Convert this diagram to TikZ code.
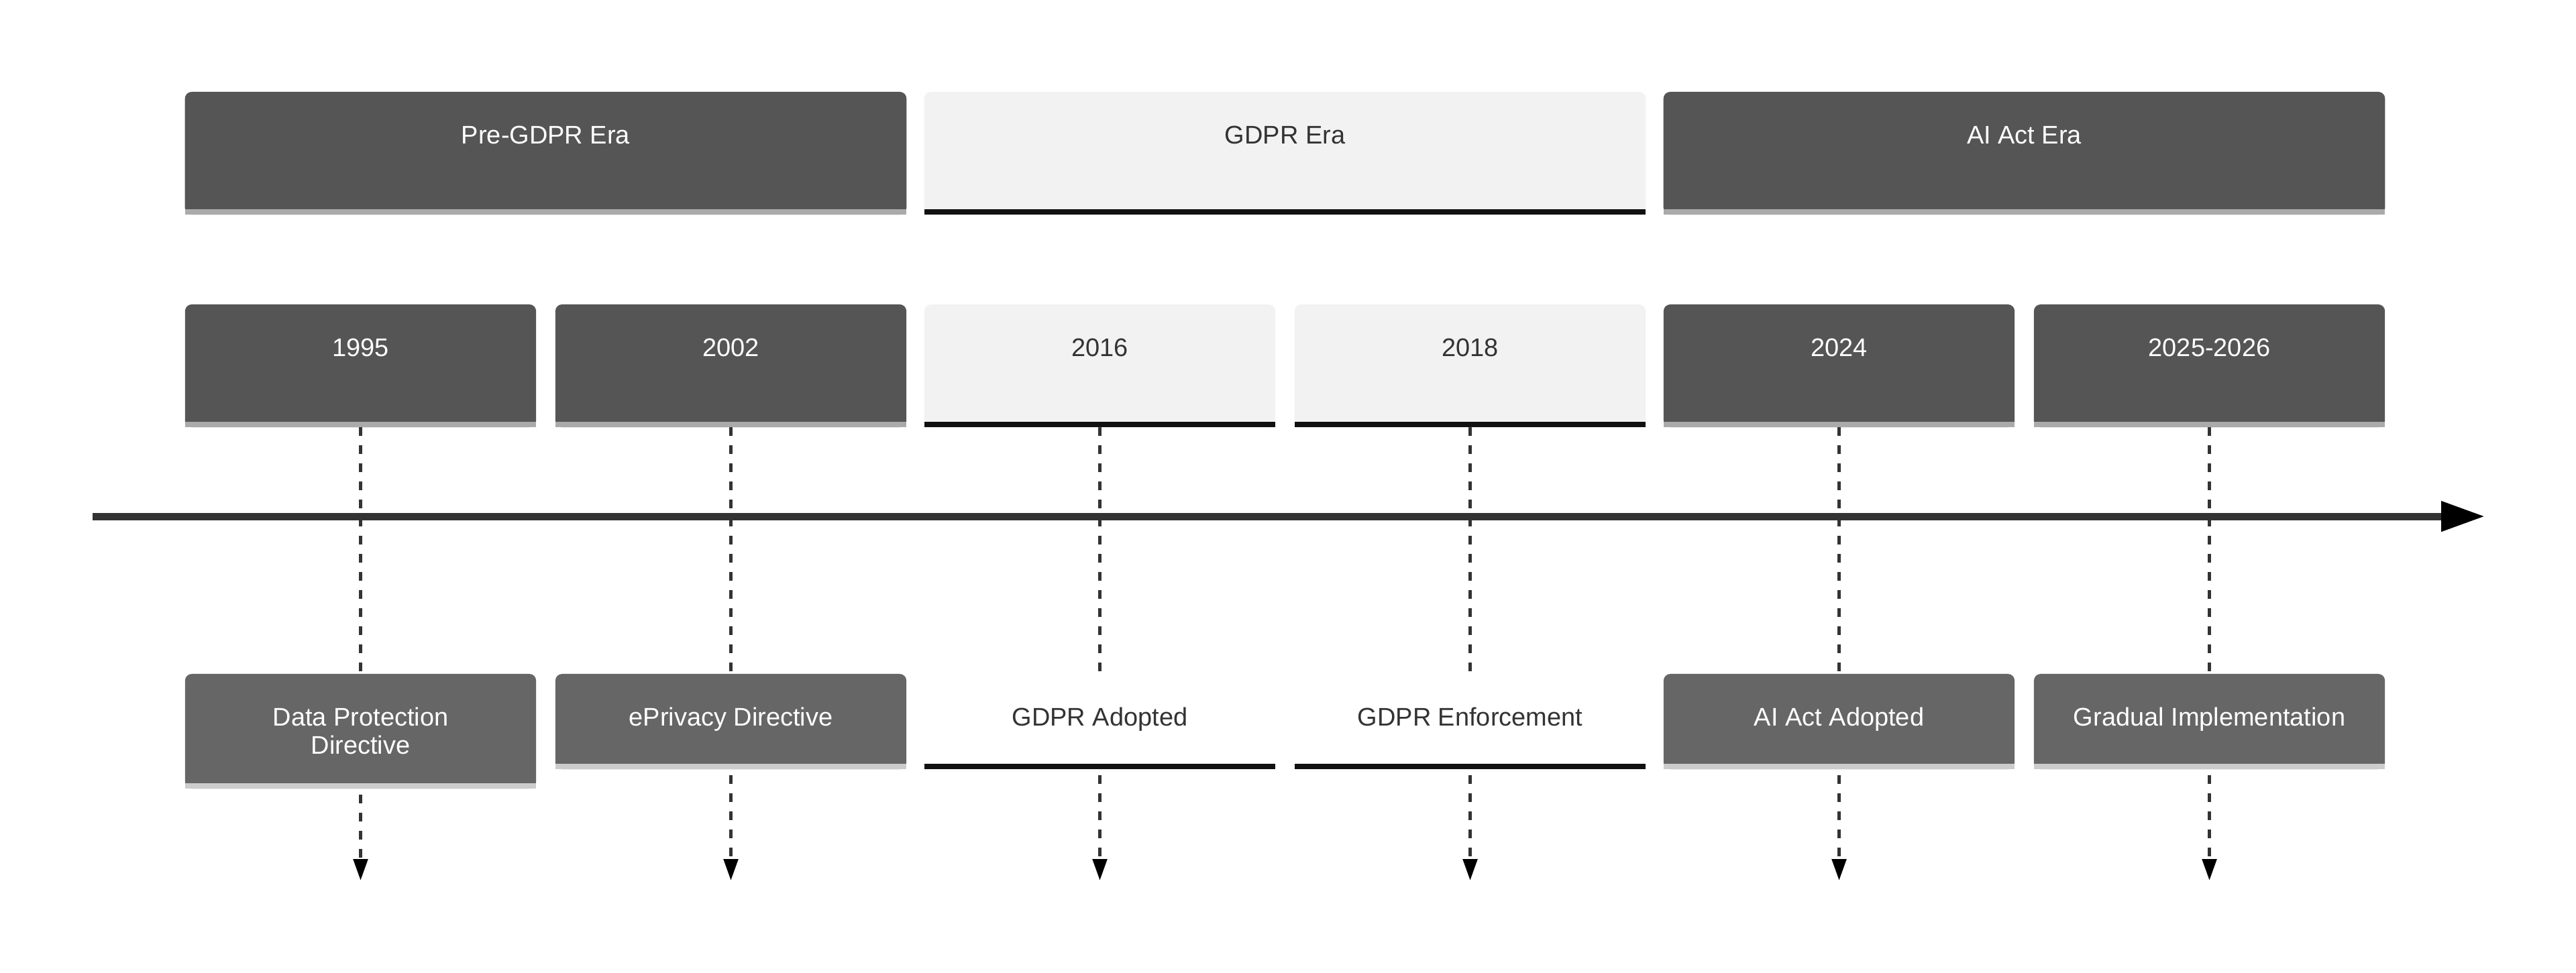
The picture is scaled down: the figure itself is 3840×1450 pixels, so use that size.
\documentclass[tikz,border=0pt]{standalone}
\usepackage{fontspec}
\setmainfont{Liberation Sans}
\usetikzlibrary{arrows.meta}
\pgfdeclarelayer{lines}
\pgfdeclarelayer{bg}
\pgfsetlayers{lines,bg,main}
\definecolor{darkbox}{HTML}{555555}
\definecolor{eventbox}{HTML}{666666}
\definecolor{lightbox}{HTML}{F2F2F2}
\definecolor{darkbar}{HTML}{AAAAAA}
\definecolor{eventbar}{HTML}{CCCCCC}
\definecolor{lightbar}{HTML}{111111}
\definecolor{ink}{HTML}{333333}
\newcommand\lblfont{\fontsize{10.8pt}{11.95pt}\selectfont}
\newcommand\tlfill[4]{%
  \fill[#2, rounded corners=0.1cm] (#1.south west) rectangle (#1.north east);
  \fill[#2] (#1.south west) rectangle (#1.east);
  \fill[#3] (#1.south west) rectangle ([yshift=#4]#1.south east);
}
\tikzset{
  shell/.style={rectangle, inner sep=0pt, outer sep=0pt, draw=none},
  erabox/.style={shell, minimum width=10.75cm, minimum height=1.83cm},
  perbox/.style={shell, minimum width=5.23cm, minimum height=1.83cm},
  evbox/.style={shell, minimum width=5.23cm, minimum height=1.42cm},
  evboxtall/.style={shell, minimum width=5.23cm, minimum height=1.71cm},
  lbl/.style 2 args={label={[anchor=base, yshift=-0.77cm, text=#2, align=center, font=\lblfont]north:{#1}}},
  lbltwo/.style 2 args={label={[anchor=base, yshift=-1.19cm, text=#2, align=center, font=\lblfont]north:{#1}}},
  tick/.style={line width=1.42pt, draw=ink, dash pattern=on 3.7pt off 3.98pt},
  tickarrow/.style={tick, -{Triangle[length=9.1pt, width=6pt, color=black]}},
  axis/.style={line width=3.13pt, draw=ink, -{Triangle[length=18.5pt, width=12.2pt, color=black]}}
}
\begin{document}
\begin{tikzpicture}[x=0.01cm, y=-0.01cm]
\useasboundingbox (0,0) rectangle (3840,1450);

% eras
\node[erabox, lbl={Pre-GDPR Era}{white}] (era1) at (813.5,228.5) {};
\node[erabox, lbl={GDPR Era}{ink}] (era2) at (1915.5,228.5) {};
\node[erabox, lbl={AI Act Era}{white}] (era3) at (3017.5,228.5) {};

% periods
\node[perbox, lbl={1995}{white}] (p1) at (537.5,545.5) {};
\node[perbox, lbl={2002}{white}] (p2) at (1089.5,545.5) {};
\node[perbox, lbl={2016}{ink}] (p3) at (1639.5,545.5) {};
\node[perbox, lbl={2018}{ink}] (p4) at (2191.5,545.5) {};
\node[perbox, lbl={2024}{white}] (p5) at (2741.5,545.5) {};
\node[perbox, lbl={2025-2026}{white}] (p6) at (3293.5,545.5) {};

% events
\node[evboxtall, lbltwo={Data Protection\\Directive}{white}] (e1) at (537.5,1090.5) {};
\node[evbox, lbl={ePrivacy Directive}{white}] (e2) at (1089.5,1076) {};
\node[evbox, lbl={GDPR Adopted}{ink}] (e3) at (1639.5,1076) {};
\node[evbox, lbl={GDPR Enforcement}{ink}] (e4) at (2191.5,1076) {};
\node[evbox, lbl={AI Act Adopted}{white}] (e5) at (2741.5,1076) {};
\node[evbox, lbl={Gradual Implementation}{white}] (e6) at (3293.5,1076) {};

% end points of the dashed arrows
\coordinate (end1) at (537.5,1313);
\coordinate (end2) at (1089.5,1313);
\coordinate (end3) at (1639.5,1313);
\coordinate (end4) at (2191.5,1313);
\coordinate (end5) at (2741.5,1313);
\coordinate (end6) at (3293.5,1313);

\begin{pgfonlayer}{bg}
  \tlfill{era1}{darkbox}{darkbar}{0.08cm}
  \tlfill{era2}{lightbox}{lightbar}{0.08cm}
  \tlfill{era3}{darkbox}{darkbar}{0.08cm}
  \tlfill{p1}{darkbox}{darkbar}{0.085cm}
  \tlfill{p2}{darkbox}{darkbar}{0.085cm}
  \tlfill{p3}{lightbox}{lightbar}{0.085cm}
  \tlfill{p4}{lightbox}{lightbar}{0.085cm}
  \tlfill{p5}{darkbox}{darkbar}{0.085cm}
  \tlfill{p6}{darkbox}{darkbar}{0.085cm}
  \tlfill{e1}{eventbox}{eventbar}{0.08cm}
  \tlfill{e2}{eventbox}{eventbar}{0.08cm}
  \tlfill{e3}{white}{lightbar}{0.08cm}
  \tlfill{e4}{white}{lightbar}{0.08cm}
  \tlfill{e5}{eventbox}{eventbar}{0.08cm}
  \tlfill{e6}{eventbox}{eventbar}{0.08cm}
\end{pgfonlayer}

\begin{pgfonlayer}{lines}
  \foreach \i in {1,...,6}{
    \draw[tick] (p\i.south) -- (e\i.north);
    \draw[tickarrow, shorten <=0.09cm] (e\i.south) -- (end\i);
  }
\end{pgfonlayer}

% time axis
\coordinate (axs) at (138,770);
\coordinate (axe) at (3704,770);
\draw[axis] (axs) -- (axe);
\end{tikzpicture}
\end{document}
